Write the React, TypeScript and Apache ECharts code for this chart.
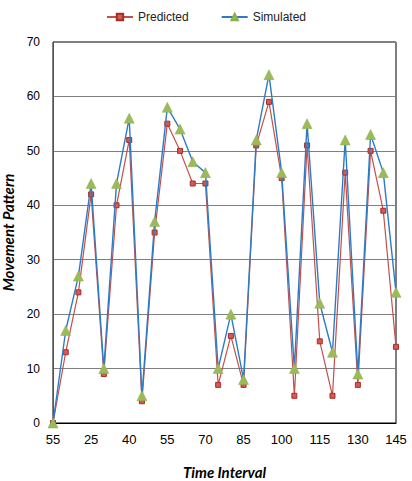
import React, { useEffect, useRef } from "react";
import * as echarts from "echarts";

const categories = [
  "55", "15", "20", "25", "30", "35", "40", "45", "50", "55",
  "60", "65", "70", "75", "80", "85", "90", "95", "100", "105",
  "110", "115", "120", "125", "130", "135", "140", "145",
];
const predicted = [0, 13, 24, 42, 9, 40, 52, 4, 35, 55, 50, 44, 44, 7, 16, 7, 51, 59, 45, 5, 51, 15, 5, 46, 7, 50, 39, 14];
const simulated = [0, 17, 27, 44, 10, 44, 56, 5, 37, 58, 54, 48, 46, 10, 20, 8, 52, 64, 46, 10, 55, 22, 13, 52, 9, 53, 46, 24];
const yTicks = { min: 0, max: 70, interval: 10 };

export default function App() {
  const ref = useRef<HTMLDivElement>(null);
  useEffect(() => {
    if (!ref.current) return;
    const chart = echarts.init(ref.current, undefined, { renderer: "svg" });
    chart.setOption({
      animation: false,
      backgroundColor: "#fff",
      legend: {
        top: 6,
        left: "center",
        itemWidth: 26,
        itemHeight: 8,
        itemGap: 32,
        textStyle: { fontFamily: "Liberation Sans", fontSize: 12, color: "#222" },
        data: ["Predicted", "Simulated"],
      },
      grid: {
        left: 53,
        right: 16,
        top: 42,
        bottom: 58,
        containLabel: false,
        outerBoundsMode: "none",
        show: true,
        borderColor: "#000",
        borderWidth: 1,
      },
      xAxis: {
        type: "category",
        data: categories,
        boundaryGap: false,
        name: "Time Interval",
        nameLocation: "middle",
        nameGap: 41,
        nameTextStyle: { fontFamily: "Lato", fontWeight: "bold", fontStyle: "italic", fontSize: 15, color: "#000" },
        axisLine: { lineStyle: { color: "#000" } },
        axisTick: { show: false },
        axisLabel: { interval: 2, margin: 10, fontFamily: "Liberation Sans", fontSize: 13, color: "#000" },
      },
      yAxis: {
        type: "value",
        min: yTicks.min,
        max: yTicks.max,
        interval: yTicks.interval,
        name: "Movement Pattern",
        nameLocation: "middle",
        nameGap: 36,
        nameTextStyle: { fontFamily: "Lato", fontWeight: "bold", fontStyle: "italic", fontSize: 15, color: "#000" },
        axisLine: { show: true, lineStyle: { color: "#555" } },
        axisTick: { show: false },
        axisLabel: { margin: 13, fontFamily: "Liberation Sans", fontSize: 12, color: "#000" },
        splitLine: { lineStyle: { color: "#7f7f7f", width: 1 } },
      },
      series: [
        {
          name: "Predicted",
          type: "line",
          data: predicted,
          symbol: "rect",
          symbolSize: 5,
          showAllSymbol: true,
          lineStyle: { color: "#C0504D", width: 1.2 },
          itemStyle: { color: "#DA5752", borderColor: "#A0302C", borderWidth: 1 },
          z: 2,
        },
        {
          name: "Simulated",
          type: "line",
          data: simulated,
          symbol: "triangle",
          symbolSize: 10,
          showAllSymbol: true,
          lineStyle: { color: "#2E7BC4", width: 1.4 },
          itemStyle: { color: "#9BBB59", borderColor: "#8AAE48", borderWidth: 0.5 },
          z: 3,
        },
      ],
    });
    return () => chart.dispose();
  }, []);
  return (
    <div
      ref={ref}
      style={{ position: "absolute", left: 0, top: 0, width: 412, height: 481 }}
    />
  );
}
